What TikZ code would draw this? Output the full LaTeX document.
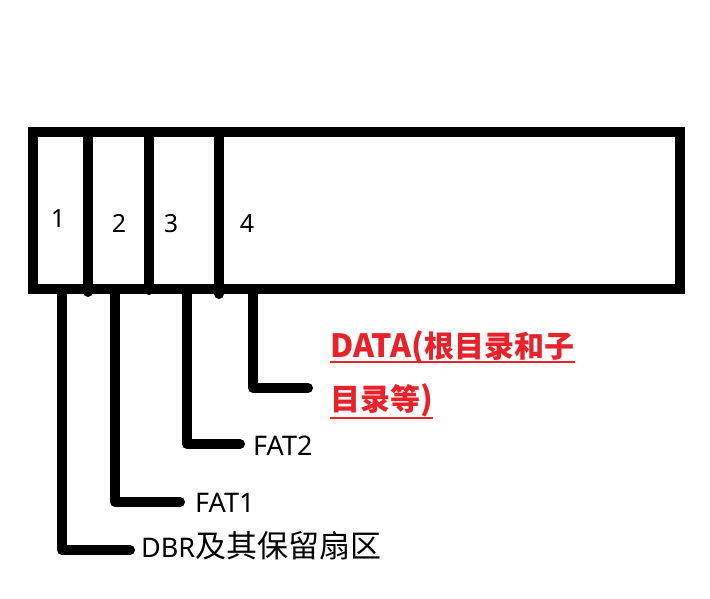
\documentclass[tikz,border=0pt]{standalone}
\usepackage{fontspec}
\setmainfont{Noto Sans}
\newfontfamily\cjk{Noto Sans CJK SC}
\definecolor{datared}{HTML}{E8212A}
\begin{document}
\begin{tikzpicture}[x=1pt,y=-1pt,
  box/.style={line width=10pt,line join=miter},
  divider/.style={line width=10pt,line cap=round},
  leader/.style={line width=10pt,line cap=round,line join=round},
  num/.style={inner sep=0pt,anchor=base,font=\fontsize{25}{30}\selectfont},
  lab/.style={inner sep=0pt,anchor=base west,font=\fontsize{27}{32}\selectfont},
  redlab/.style={inner sep=0pt,anchor=base west,text=datared,font=\cjk\bfseries\fontsize{30}{36}\selectfont},
  uline/.style={datared,line width=2.5pt}]
\useasboundingbox (0,0) rectangle (710,599);
% disk rectangle
\draw[box] (33,132) rectangle (680,289);
% dividers
\coordinate (t1) at (88,132); \coordinate (b1) at (88,292);
\coordinate (t2) at (149,132); \coordinate (b2) at (149,290);
\coordinate (t3) at (219,132); \coordinate (b3) at (219,294);
\draw[divider] (t1) -- (b1);
\draw[divider] (t2) -- (b2);
\draw[divider] (t3) -- (b3);
% region numbers
\node[num] (n1) at (58,228) {1};
\node[num] (n2) at (119,233) {2};
\node[num] (n3) at (171,233) {3};
\node[num] (n4) at (247,233) {4};
% labels
\node[lab] (l1) at (141,557) {DBR{\cjk\fontsize{31}{36}\selectfont 及其保留扇区}};
\node[lab] (l2) at (195,512) {FAT1};
\node[lab] (l3) at (253,455) {FAT2};
\node[redlab] (l4a) at (330,357) {{\fontsize{32}{36}\selectfont DATA(}根目录和子};
\node[redlab] (l4b) at (330,410) {目录等{\fontsize{32}{36}\selectfont )}};
\draw[uline] ([yshift=-5pt]l4a.base west) -- ([yshift=-5pt]l4a.base east);
\draw[uline] ([yshift=-8pt]l4b.base west) -- ([yshift=-8pt]l4b.base east);
% leaders
\coordinate (s1) at (62,289); \coordinate (e1) at (130,550);
\coordinate (s2) at (115,289); \coordinate (e2) at (180,502);
\coordinate (s3) at (187,289); \coordinate (e3) at (240,444);
\coordinate (s4) at (253,289); \coordinate (e4) at (308,388);
\draw[leader] (s1) |- (e1);
\draw[leader] (s2) |- (e2);
\draw[leader] (s3) |- (e3);
\draw[leader] (s4) |- (e4);
\end{tikzpicture}
\end{document}
